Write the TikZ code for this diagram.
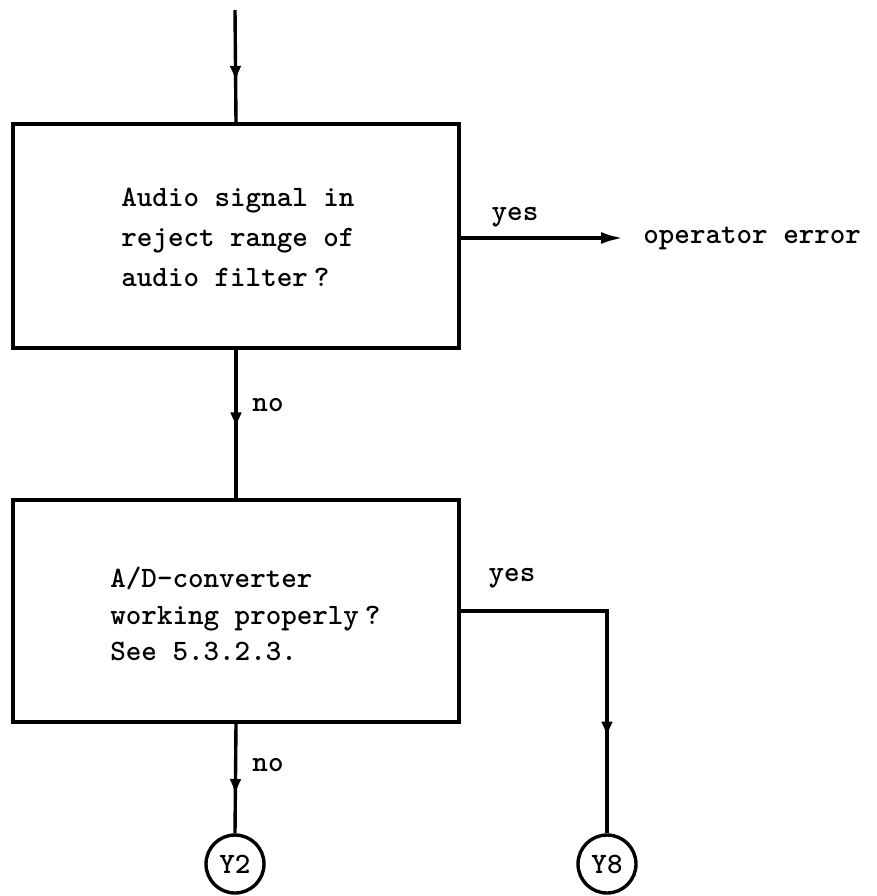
\documentclass[tikz,border=0pt]{standalone}
\usetikzlibrary{arrows.meta,decorations.markings}
\begin{document}
\begin{tikzpicture}[x=0.5pt,y=-0.5pt,
  box/.style={draw, line width=1.8pt, minimum width=223pt, minimum height=112pt, inner sep=0pt},
  txt/.style={font=\fontsize{14.8}{20}\selectfont\ttfamily\bfseries, inner sep=0pt, align=left},
  lbl/.style={font=\fontsize{14.8}{20}\selectfont\ttfamily\bfseries, inner sep=0pt},
  conn/.style={line width=1.7pt},
  midarrow/.style={postaction={decorate}, decoration={markings, mark=at position #1 with {\arrow{Latex[length=8pt,width=6pt]}}}},
  term/.style={draw, circle, line width=1.7pt, minimum size=29pt, inner sep=0pt, font=\fontsize{14.8}{20}\selectfont\ttfamily\bfseries}
]
\useasboundingbox (0,0) rectangle (877,896);

\coordinate (start) at (235,10);
\node[box] (box1) at (236,236) {};
\node[box, minimum height=111pt] (box2) at (236,611) {};

\node[txt, anchor=west] (t1) at (121,237) {Audio signal in\\reject range of\\audio filter\kern.2em?};
\node[txt, anchor=west, font=\fontsize{14.8}{18.3}\selectfont\ttfamily\bfseries] (t2) at (110,614) {A/D-converter\\working properly\kern.2em?\\See 5.3.2.3.};

\node[lbl, anchor=west, inner xsep=10pt] (op) at (623,238) {operator error};

\node[term] (y2) at (235,864) {Y2};
\node[term] (y8) at (607,864) {Y8};

% connectors
\draw[conn, midarrow=0.64] (start) -- (box1.north);
\draw[conn, -{Latex[length=11pt,width=6pt]}] (box1.east |- op.west) -- (op.west);
\draw[conn, midarrow=0.53] (box1.south) -- (box2.north);
\draw[conn, midarrow=0.65] (box2.south) -- (y2.north);
\draw[conn, midarrow=0.74] (box2.east) -- (box2.east -| y8.north) -- (y8.north);

% labels
\node[lbl] (yes1) at (515,217) {yes};
\node[lbl] (no1) at (268,405) {no};
\node[lbl] (yes2) at (512,578) {yes};
\node[lbl] (no2) at (268,765) {no};
\end{tikzpicture}
\end{document}
